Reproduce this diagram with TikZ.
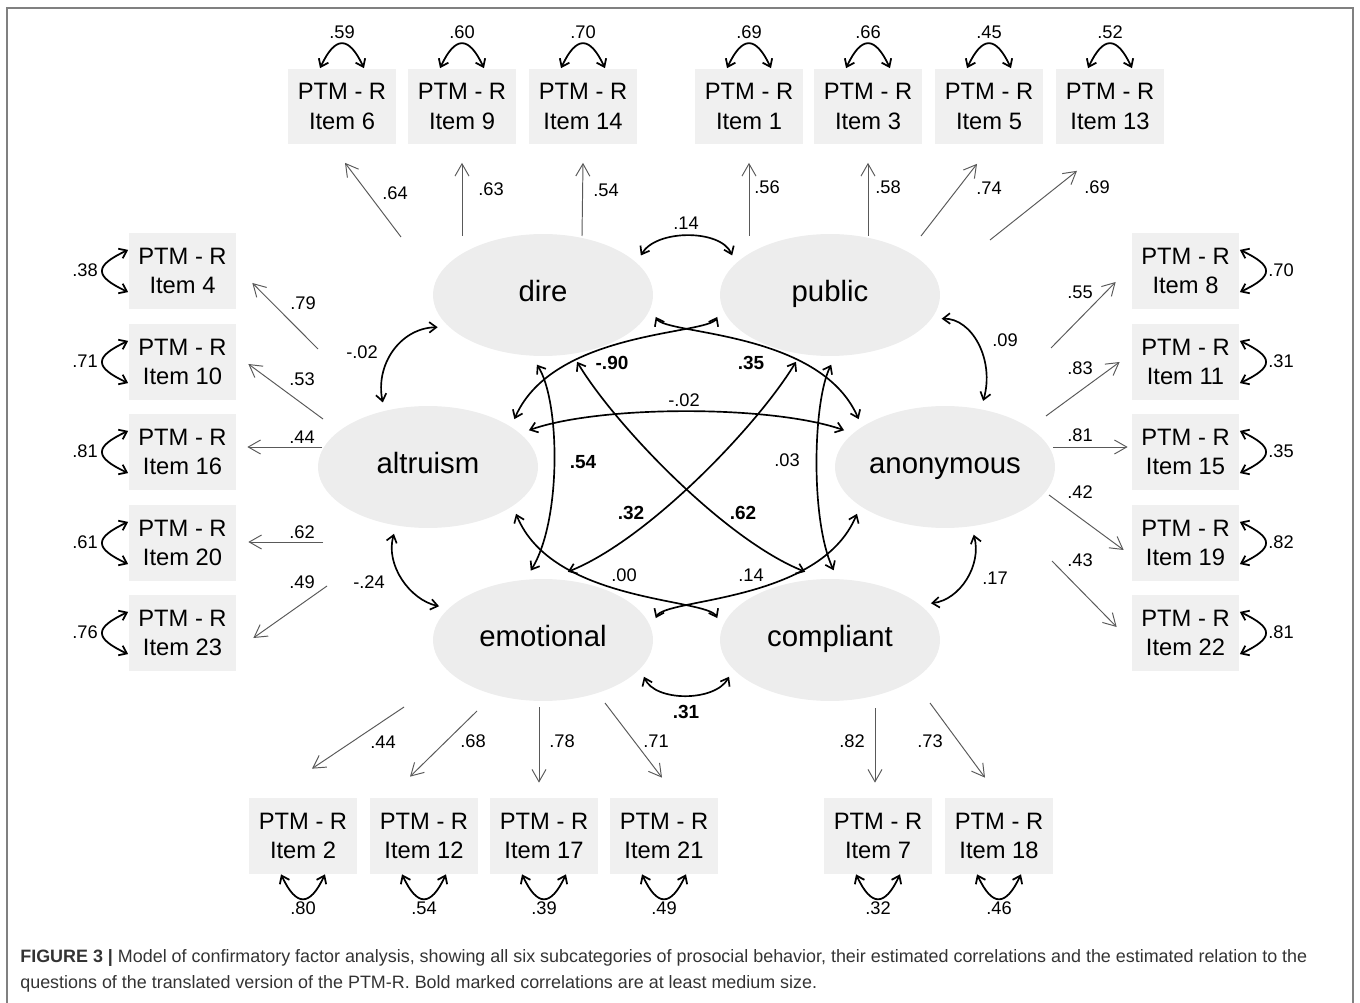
\documentclass[tikz,border=0pt]{standalone}
\usepackage{fontspec}
\setmainfont{Liberation Sans}
\usetikzlibrary{arrows.meta, shapes.geometric, calc}

\begin{document}
\begin{tikzpicture}[
    x=0.02cm, y=0.02cm,
    factor/.style={ellipse, fill=black!7, minimum width=4.4cm, minimum height=2.44cm,
                   inner sep=0pt, outer sep=5pt, text height=0.72em, text depth=0pt,
                   font=\fontsize{16.7}{20}\selectfont},
    item/.style={rectangle, fill=black!6, minimum width=2.16cm, minimum height=1.52cm,
                 inner sep=0pt, align=center, font=\fontsize{13.5}{17}\selectfont},
    load/.style={draw=black!65, line width=0.55pt, -{Straight Barb[length=7pt, width=8pt]}},
    cor/.style={line width=0.95pt, {Straight Barb[length=4pt, width=6pt]}-{Straight Barb[length=4pt, width=6pt]}},
    var/.style={line width=1pt, {Straight Barb[length=4pt, width=6pt]}-{Straight Barb[length=4pt, width=6pt]}, looseness=2.1},
    num/.style={font=\fontsize{10.4}{12}\selectfont, inner sep=1pt},
    bnum/.style={font=\fontsize{10.8}{12}\selectfont\bfseries, inner sep=1pt},
    caption/.style={font=\fontsize{10.2}{12}\selectfont, text=black!80, inner sep=0pt, anchor=base west}
]
\useasboundingbox (0,0) rectangle (1360,-1003);
\draw[black!50, line width=1pt] (7,-1003) -- (7,-8) -- (1353,-8) -- (1353,-1003);

% factors
\node[factor] (dire) at (543,-295) {dire};
\node[factor] (public) at (830,-295) {public};
\node[factor] (altruism) at (428,-467) {altruism};
\node[factor] (anonymous) at (945,-467) {anonymous};
\node[factor] (emotional) at (543,-640) {emotional};
\node[factor] (compliant) at (830,-640) {compliant};

% items, top row
\node[item] (i6) at (342,-106.5) {PTM - R\\Item 6};
\node[item] (i9) at (462,-106.5) {PTM - R\\Item 9};
\node[item] (i14) at (583,-106.5) {PTM - R\\Item 14};
\node[item] (i1) at (749,-106.5) {PTM - R\\Item 1};
\node[item] (i3) at (868,-106.5) {PTM - R\\Item 3};
\node[item] (i5) at (989,-106.5) {PTM - R\\Item 5};
\node[item] (i13) at (1110,-106.5) {PTM - R\\Item 13};

% items, left column
\node[item] (i4) at (182.5,-271) {PTM - R\\Item 4};
\node[item] (i10) at (182.5,-362) {PTM - R\\Item 10};
\node[item] (i16) at (182.5,-452) {PTM - R\\Item 16};
\node[item] (i20) at (182.5,-543) {PTM - R\\Item 20};
\node[item] (i23) at (182.5,-633) {PTM - R\\Item 23};

% items, right column
\node[item] (i8) at (1185.5,-271) {PTM - R\\Item 8};
\node[item] (i11) at (1185.5,-362) {PTM - R\\Item 11};
\node[item] (i15) at (1185.5,-452) {PTM - R\\Item 15};
\node[item] (i19) at (1185.5,-543) {PTM - R\\Item 19};
\node[item] (i22) at (1185.5,-633) {PTM - R\\Item 22};

% items, bottom row
\node[item] (i2) at (303,-836) {PTM - R\\Item 2};
\node[item] (i12) at (424,-836) {PTM - R\\Item 12};
\node[item] (i17) at (544,-836) {PTM - R\\Item 17};
\node[item] (i21) at (664,-836) {PTM - R\\Item 21};
\node[item] (i7) at (878,-836) {PTM - R\\Item 7};
\node[item] (i18) at (999,-836) {PTM - R\\Item 18};

% residual variances
\draw[var] ([xshift=-12.5pt]i6.north) to[out=65,in=115] ([xshift=12.5pt]i6.north);
\draw[var] ([xshift=-12.5pt]i9.north) to[out=65,in=115] ([xshift=12.5pt]i9.north);
\draw[var] ([xshift=-12.5pt]i14.north) to[out=65,in=115] ([xshift=12.5pt]i14.north);
\draw[var] ([xshift=-12.5pt]i1.north) to[out=65,in=115] ([xshift=12.5pt]i1.north);
\draw[var] ([xshift=-12.5pt]i3.north) to[out=65,in=115] ([xshift=12.5pt]i3.north);
\draw[var] ([xshift=-12.5pt]i5.north) to[out=65,in=115] ([xshift=12.5pt]i5.north);
\draw[var] ([xshift=-12.5pt]i13.north) to[out=65,in=115] ([xshift=12.5pt]i13.north);
\node[num] (v6) at (342,-32) {.59};
\node[num] (v9) at (462,-32) {.60};
\node[num] (v14) at (583,-32) {.70};
\node[num] (v1) at (749,-32) {.69};
\node[num] (v3) at (868,-32) {.66};
\node[num] (v5) at (989,-32) {.45};
\node[num] (v13) at (1110,-32) {.52};

\draw[var, looseness=2.3] ([yshift=12pt]i4.west) to[out=205,in=155] ([yshift=-12pt]i4.west);
\draw[var, looseness=2.3] ([yshift=12pt]i10.west) to[out=205,in=155] ([yshift=-12pt]i10.west);
\draw[var, looseness=2.3] ([yshift=12pt]i16.west) to[out=205,in=155] ([yshift=-12pt]i16.west);
\draw[var, looseness=2.3] ([yshift=12pt]i20.west) to[out=205,in=155] ([yshift=-12pt]i20.west);
\draw[var, looseness=2.3] ([yshift=12pt]i23.west) to[out=205,in=155] ([yshift=-12pt]i23.west);
\node[num] (v4) at (85,-270) {.38};
\node[num] (v10) at (85,-361) {.71};
\node[num] (v16) at (85,-451) {.81};
\node[num] (v20) at (85,-542) {.61};
\node[num] (v23) at (85,-632) {.76};

\draw[var, looseness=2.3] ([yshift=12pt]i8.east) to[out=-25,in=25] ([yshift=-12pt]i8.east);
\draw[var, looseness=2.3] ([yshift=12pt]i11.east) to[out=-25,in=25] ([yshift=-12pt]i11.east);
\draw[var, looseness=2.3] ([yshift=12pt]i15.east) to[out=-25,in=25] ([yshift=-12pt]i15.east);
\draw[var, looseness=2.3] ([yshift=12pt]i19.east) to[out=-25,in=25] ([yshift=-12pt]i19.east);
\draw[var, looseness=2.3] ([yshift=12pt]i22.east) to[out=-25,in=25] ([yshift=-12pt]i22.east);
\node[num] (v8) at (1281,-270) {.70};
\node[num] (v11) at (1281,-361) {.31};
\node[num] (v15) at (1281,-451) {.35};
\node[num] (v19) at (1281,-542) {.82};
\node[num] (v22) at (1281,-632) {.81};

\draw[var] ([xshift=-12.5pt]i2.south) to[out=-65,in=-115] ([xshift=12.5pt]i2.south);
\draw[var] ([xshift=-12.5pt]i12.south) to[out=-65,in=-115] ([xshift=12.5pt]i12.south);
\draw[var] ([xshift=-12.5pt]i17.south) to[out=-65,in=-115] ([xshift=12.5pt]i17.south);
\draw[var] ([xshift=-12.5pt]i21.south) to[out=-65,in=-115] ([xshift=12.5pt]i21.south);
\draw[var] ([xshift=-12.5pt]i7.south) to[out=-65,in=-115] ([xshift=12.5pt]i7.south);
\draw[var] ([xshift=-12.5pt]i18.south) to[out=-65,in=-115] ([xshift=12.5pt]i18.south);
\node[num] (v2) at (303,-908) {.80};
\node[num] (v12) at (424,-908) {.54};
\node[num] (v17) at (544,-908) {.39};
\node[num] (v21) at (664,-908) {.49};
\node[num] (v7) at (878,-908) {.32};
\node[num] (v18) at (999,-908) {.46};

% loadings
\draw[load] ($(dire)+(-142,58)$) -- ($(i6.south)+(3,-18)$);
\draw[load] ($(dire)+(-81,59)$) -- ($(i9.south)+(0,-18)$);
\draw[load] ($(dire)+(39,59)$) -- ($(i14.south)+(0,-18)$);
\draw[load] ($(public)+(-81,59)$) -- ($(i1.south)+(0,-18)$);
\draw[load] ($(public)+(38,59)$) -- ($(i3.south)+(0,-18)$);
\draw[load] ($(public)+(91,59)$) -- ($(i5.south)+(-12,-19)$);
\draw[load] ($(public)+(160,55)$) -- ($(i13.south)+(-33,-26)$);
\node[num] (w6) at (395,-193) {.64};
\node[num] (w9) at (491,-189) {.63};
\node[num] (w14) at (606,-190) {.54};
\node[num] (w1) at (767,-187) {.56};
\node[num] (w3) at (888,-187) {.58};
\node[num] (w5) at (989,-188) {.74};
\node[num] (w13) at (1097,-187) {.69};

\draw[load] ($(altruism)+(-110,118)$) -- ($(i4.east)+(15.5,-12)$);
\draw[load] ($(altruism)+(-105,48)$) -- ($(i10.east)+(11.5,-2)$);
\draw[load] ($(altruism)+(-106,20)$) -- ($(i16.east)+(10.5,5)$);
\draw[load] ($(altruism)+(-105,-75)$) -- ($(i20.east)+(11.5,1)$);
\draw[load] ($(altruism)+(-101,-119)$) -- ($(i23.east)+(16.5,-5)$);
\node[num] (w4) at (303,-303) {.79};
\node[num] (w10) at (302,-379) {.53};
\node[num] (w16) at (302,-437) {.44};
\node[num] (w20) at (302,-532) {.62};
\node[num] (w23) at (302,-582) {.49};

\draw[load] ($(anonymous)+(106,119)$) -- ($(i8.west)+(-15.5,-11)$);
\draw[load] ($(anonymous)+(101,51)$) -- ($(i11.west)+(-11.5,0)$);
\draw[load] ($(anonymous)+(108,20)$) -- ($(i15.west)+(-3.5,5)$);
\draw[load] ($(anonymous)+(104,-28)$) -- ($(i19.west)+(-7.5,-7)$);
\draw[load] ($(anonymous)+(107,-94)$) -- ($(i22.west)+(-14.5,6)$);
\node[num] (w8) at (1080,-292) {.55};
\node[num] (w11) at (1080,-368) {.83};
\node[num] (w15) at (1080,-435) {.81};
\node[num] (w19) at (1080,-492) {.42};
\node[num] (w22) at (1080,-560) {.43};

\draw[load] ($(emotional)+(-139,-67)$) -- ($(i2.north)+(9,29)$);
\draw[load] ($(emotional)+(-66,-71)$) -- ($(i12.north)+(-14,21)$);
\draw[load] ($(emotional)+(-4,-67)$) -- ($(i17.north)+(-5,15)$);
\draw[load] ($(emotional)+(62,-63)$) -- ($(i21.north)+(-2,20)$);
\draw[load] ($(compliant)+(45,-68)$) -- ($(i7.north)+(-3,15)$);
\draw[load] ($(compliant)+(100,-63)$) -- ($(i18.north)+(-14,20)$);
\node[num] (w2) at (383,-742) {.44};
\node[num] (w12) at (473,-741) {.68};
\node[num] (w17) at (562,-741) {.78};
\node[num] (w21) at (656,-741) {.71};
\node[num] (w7) at (852,-741) {.82};
\node[num] (w18) at (930,-741) {.73};

% factor correlations
\draw[cor] (dire.22) .. controls (656,-229) and (721,-229) .. (public.158);
\draw[cor] (dire.197) .. controls (400,-328) and (375,-365) .. (altruism.125);
\draw[cor] (public.-12) .. controls (972,-318) and (995,-360) .. (anonymous.60);
\draw[cor] (altruism.243) .. controls (385,-565) and (410,-600) .. (emotional.162);
\draw[cor] (anonymous.-67) .. controls (982,-565) and (960,-600) .. (compliant.20);
\draw[cor] (emotional.-20) .. controls (655,-702) and (715,-702) .. (compliant.200);
\draw[cor] (altruism.20) .. controls (600,-405) and (772,-405) .. (anonymous.160);
\draw[cor] (dire.-11) .. controls (665,-335) and (820,-330) .. (anonymous.151);
\draw[cor] (public.191) .. controls (708,-335) and (553,-330) .. (altruism.29);
\draw[cor] (dire.-95) .. controls (560,-400) and (562,-520) .. (emotional.100);
\draw[cor] (public.-89) .. controls (813,-400) and (810,-520) .. (compliant.87);
\draw[cor] (dire.-63) .. controls (615,-425) and (725,-540) .. (compliant.110);
\draw[cor] (public.-117) .. controls (758,-425) and (648,-540) .. (emotional.70);
\draw[cor] (altruism.-28) .. controls (552,-603) and (707,-598) .. (compliant.169);
\draw[cor] (emotional.11) .. controls (665,-598) and (820,-603) .. (anonymous.208);

\node[num] (c-dp) at (686,-223) {.14};
\node[num] (c-da) at (362,-352) {-.02};
\node[num] (c-pn) at (1005,-340) {.09};
\node[num] (c-ae) at (369,-582) {-.24};
\node[num] (c-nc) at (995,-578) {.17};
\node[bnum] (c-ec) at (686,-712) {.31};
\node[num] (c-an) at (684,-400) {-.02};
\node[bnum] (c-dc) at (612,-363) {-.90};
\node[bnum] (c-dn) at (751,-363) {.35};
\node[bnum] (c-de) at (583,-462) {.54};
\node[num] (c-pc) at (787,-460) {.03};
\node[bnum] (c-pe) at (631,-513) {.32};
\node[bnum] (c-cc) at (743,-513) {.62};
\node[num] (c-ac) at (624,-575) {.00};
\node[num] (c-en) at (751,-575) {.14};

% caption
\node[caption] (cap1) at (20,-962) {\textbf{FIGURE 3 |} Model of confirmatory factor analysis, showing all six subcategories of prosocial behavior, their estimated correlations and the estimated relation to the};
\node[caption] (cap2) at (20,-988) {questions of the translated version of the PTM-R. Bold marked correlations are at least medium size.};

\end{tikzpicture}
\end{document}
